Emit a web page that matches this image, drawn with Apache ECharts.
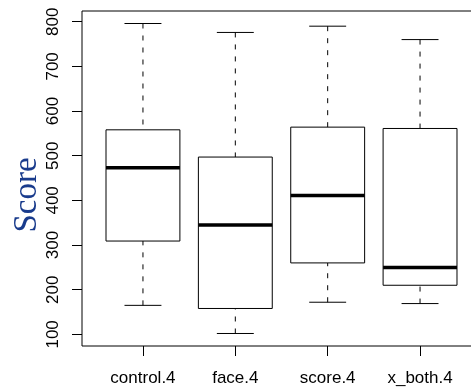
<!DOCTYPE html>
<html>
<head>
<meta charset="utf-8">
<script src="https://cdn.jsdelivr.net/npm/echarts@6/dist/echarts.min.js"></script>
<style>
  html, body { margin: 0; padding: 0; background: #fff; }
  #chart { width: 471px; height: 388px; }
</style>
</head>
<body>
<div id="chart"></div>
<script>
// Groups and their five-number summaries
const categories = ['control.4', 'face.4', 'score.4', 'x_both.4'];
const lowerWhisker = [165, 102, 172, 169];
const lowerQuartile = [309, 158, 260, 210];
const medians = [473, 345, 411, 250];
const upperQuartile = [558, 497, 564, 561];
const upperWhisker = [796, 776, 790, 760];
const yTicks = [100, 200, 300, 400, 500, 600, 700, 800];
const xPositions = [1, 2, 3, 4];

const BOX_WIDTH = 0.8;   // in x-axis units
const CAP_WIDTH = 0.4;

const seriesData = categories.map((c, i) => [
  xPositions[i], lowerWhisker[i], lowerQuartile[i], medians[i], upperQuartile[i], upperWhisker[i]
]);

function renderBox(params, api) {
  const x = api.value(0);
  const pLo = api.coord([x, api.value(1)]);
  const pQ1 = api.coord([x, api.value(2)]);
  const pMed = api.coord([x, api.value(3)]);
  const pQ3 = api.coord([x, api.value(4)]);
  const pHi = api.coord([x, api.value(5)]);
  const hb = api.size([BOX_WIDTH, 0])[0] / 2;
  const hc = api.size([CAP_WIDTH, 0])[0] / 2;
  const cx = pMed[0];
  const thin = { stroke: '#000', lineWidth: 1, fill: null };
  const dashed = { stroke: '#000', lineWidth: 1, lineDash: [5, 7] };
  return {
    type: 'group',
    children: [
      // whiskers
      { type: 'line', shape: { x1: cx, y1: pHi[1], x2: cx, y2: pQ3[1] }, style: dashed },
      { type: 'line', shape: { x1: cx, y1: pLo[1], x2: cx, y2: pQ1[1] }, style: dashed },
      // whisker caps
      { type: 'line', shape: { x1: cx - hc, y1: pHi[1], x2: cx + hc, y2: pHi[1] }, style: thin },
      { type: 'line', shape: { x1: cx - hc, y1: pLo[1], x2: cx + hc, y2: pLo[1] }, style: thin },
      // box
      { type: 'rect', shape: { x: cx - hb, y: pQ3[1], width: 2 * hb, height: pQ1[1] - pQ3[1] },
        style: { stroke: '#000', lineWidth: 1, fill: '#fff' } },
      // median
      { type: 'line', shape: { x1: cx - hb, y1: pMed[1], x2: cx + hb, y2: pMed[1] },
        style: { stroke: '#000', lineWidth: 3.5, lineCap: 'butt' } }
    ]
  };
}

const chart = echarts.init(document.getElementById('chart'), null, { renderer: 'canvas' });
chart.setOption({
  animation: false,
  backgroundColor: '#fff',
  grid: {
    left: 82, right: -10, top: 11, bottom: 42,
    outerBoundsMode: 'none', containLabel: false,
    show: true, borderColor: '#000', borderWidth: 1, backgroundColor: 'transparent'
  },
  xAxis: {
    type: 'value', min: 0.34, max: 4.66,
    axisLine: { show: false },
    splitLine: { show: false },
    axisTick: { show: true, length: 10, customValues: xPositions, lineStyle: { color: '#000', width: 1 } },
    axisLabel: {
      customValues: xPositions, margin: 24, color: '#000',
      fontFamily: 'Liberation Sans', fontSize: 17,
      formatter: v => categories[Math.round(v) - 1] || ''
    }
  },
  yAxis: {
    type: 'value', min: 74, max: 824,
    axisLine: { show: false },
    splitLine: { show: false },
    axisTick: { show: true, length: 10, customValues: yTicks, lineStyle: { color: '#000', width: 1 } },
    axisLabel: {
      customValues: yTicks, rotate: 90, margin: 20, color: '#000',
      fontFamily: 'Liberation Sans', fontSize: 17
    }
  },
  graphic: [{
    type: 'text', x: 27.5, y: 195, rotation: Math.PI / 2,
    style: {
      text: 'Score', fill: '#193b8c', fontFamily: 'Liberation Serif', fontSize: 33,
      align: 'center', verticalAlign: 'middle'
    }
  }],
  series: [{
    type: 'custom',
    renderItem: renderBox,
    encode: { x: 0, y: [1, 2, 3, 4, 5] },
    data: seriesData
  }]
});
</script>
</body>
</html>
